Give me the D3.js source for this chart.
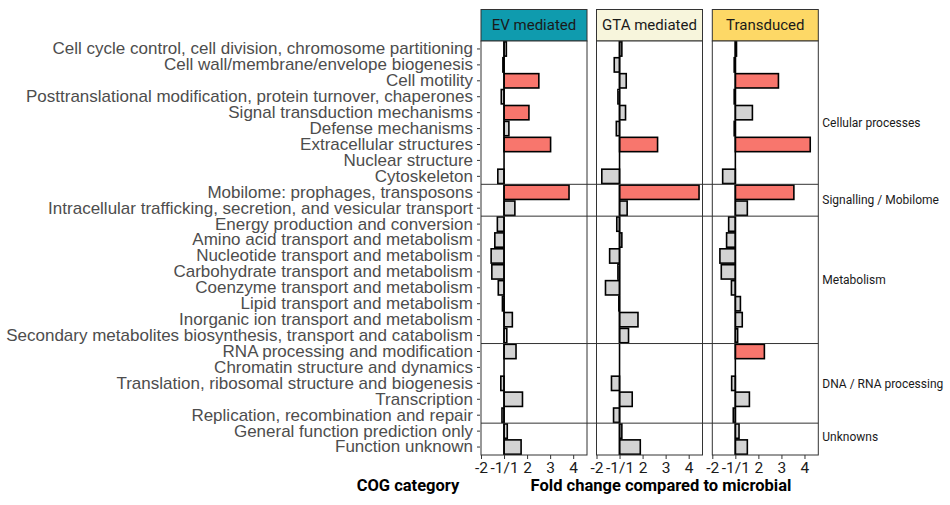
<!DOCTYPE html>
<html>
<head>
<meta charset="utf-8">
<script src="https://cdn.jsdelivr.net/npm/d3@7"></script>
<style>
  body { margin: 0; background: #fff; }
  svg { display: block; }
  .ylab { font-family: "Liberation Sans", Arimo, Arial, Helvetica, sans-serif; }
</style>
</head>
<body>
<div id="chart"></div>
<script>
// COG categories, top to bottom
const categories = [
    "Cell cycle control, cell division, chromosome partitioning",
    "Cell wall/membrane/envelope biogenesis",
    "Cell motility",
    "Posttranslational modification, protein turnover, chaperones",
    "Signal transduction mechanisms",
    "Defense mechanisms",
    "Extracellular structures",
    "Nuclear structure",
    "Cytoskeleton",
    "Mobilome: prophages, transposons",
    "Intracellular trafficking, secretion, and vesicular transport",
    "Energy production and conversion",
    "Amino acid transport and metabolism",
    "Nucleotide transport and metabolism",
    "Carbohydrate transport and metabolism",
    "Coenzyme transport and metabolism",
    "Lipid transport and metabolism",
    "Inorganic ion transport and metabolism",
    "Secondary metabolites biosynthesis, transport and catabolism",
    "RNA processing and modification",
    "Chromatin structure and dynamics",
    "Translation, ribosomal structure and biogenesis",
    "Transcription",
    "Replication, recombination and repair",
    "General function prediction only",
    "Function unknown"
];

// group of each category (row facets)
const groups = ["Cellular processes", "Signalling / Mobilome", "Metabolism", "DNA / RNA processing", "Unknowns"];
const groupSizes = [9, 2, 8, 5, 2];

// panels (column facets)
const panels = ["EV mediated", "GTA mediated", "Transduced"];
const panelColors = ["#0f9bae", "#f7f5dc", "#fdd866"];

// fold change compared to microbial (null = no bar)
const evValues = [1.1, -1.05, 2.51, -1.12, 2.08, 1.21, 3.02, null, -1.27, 3.82, 1.47,
    -1.29, -1.4, -1.56, -1.53, -1.25, -1.07, 1.36, 1.12,
    1.52, null, -1.14, 1.8, -1.09, 1.14, 1.74];
const gtaValues = [1.1, -1.23, 1.29, -1.07, 1.26, -1.14, 2.65, null, -1.77, 4.45, 1.33,
    -1.12, 1.1, -1.43, -1.07, -1.61, -1.03, 1.8, 1.39,
    null, null, -1.35, 1.55, -1.26, 1.1, 1.9];
const transValues = [1.05, -1.05, 2.87, -1.05, 1.74, -1.05, 4.25, null, -1.55, 3.54, 1.52,
    -1.29, -1.38, -1.67, -1.61, -1.17, 1.22, 1.3, 1.1,
    2.26, null, -1.16, 1.61, -1.09, 1.16, 1.52];
const panelValues = [evValues, gtaValues, transValues];

// x axis ticks
const tickValues = [-2, 1, 2, 3, 4];
const tickLabels = ["-2", "-1/1", "2", "3", "4"];

const svgWidth = 950, svgHeight = 505;
const panelLeft = [481, 596.5, 712.3];
const panelWidth = 106;
const plotTop = 41, plotBottom = 455;
const groupLabelShift = [10.5, 0, 0, 0, -2];

const svg = d3.select("#chart")
    .append("svg")
    .attr("width", svgWidth)
    .attr("height", svgHeight);

// fold change -> position (the -1..1 gap is collapsed)
const foldPos = (f) => f >= 0 ? f - 1 : f + 1;

const x = d3.scaleLinear()
    .domain([-1, 3.6])
    .range([0, panelWidth]);

const y = d3.scaleBand()
    .domain(categories)
    .range([plotTop, plotBottom])
    .paddingInner(0.1)
    .paddingOuter(0.05);

// y axis labels
const yAxis = svg.append("g")
    .attr("transform", `translate(${panelLeft[0] - 1}, 0)`)
    .call(d3.axisLeft(y).tickSize(3).tickPadding(4));
yAxis.attr("font-family", null).attr("font-size", null);
yAxis.select(".domain").remove();
yAxis.selectAll(".tick line").attr("stroke", "#333");
yAxis.selectAll("text")
    .attr("class", "ylab")
    .attr("fill", "#4d4d4d")
    .attr("font-size", 17);

panels.forEach((name, i) => {
    const g = svg.append("g").attr("transform", `translate(${panelLeft[i]}, 0)`);

    // strip
    g.append("rect")
        .attr("x", 0).attr("y", 9.5)
        .attr("width", panelWidth).attr("height", plotTop - 9.5)
        .attr("fill", panelColors[i])
        .attr("stroke", "#333").attr("stroke-width", 1);
    g.append("text")
        .attr("x", panelWidth / 2).attr("y", 30)
        .attr("text-anchor", "middle")
        .style("font-family", "Roboto, sans-serif")
        .style("font-size", "15px")
        .attr("fill", "#1a1a1a")
        .text(name);

    // panel background
    g.append("rect")
        .attr("x", 0).attr("y", plotTop)
        .attr("width", panelWidth).attr("height", plotBottom - plotTop)
        .attr("fill", "white");

    const rows = categories.map((c, k) => ({ cat: c, v: panelValues[i][k] }))
        .filter(d => d.v !== null);

    g.selectAll("rect.bar")
        .data(rows)
        .enter().append("rect")
        .attr("class", "bar")
        .attr("x", d => Math.min(x(0), x(foldPos(d.v))))
        .attr("width", d => Math.abs(x(foldPos(d.v)) - x(0)))
        .attr("y", d => y(d.cat))
        .attr("height", y.bandwidth())
        .attr("fill", d => d.v >= 2 ? "#f8766d" : "#d3d3d3")
        .attr("stroke", "black")
        .attr("stroke-width", 1.6);

    // zero line
    g.append("line")
        .attr("x1", x(0)).attr("x2", x(0))
        .attr("y1", plotTop).attr("y2", plotBottom)
        .attr("stroke", "black").attr("stroke-width", 1.6);

    // panel border
    g.append("rect")
        .attr("x", 0).attr("y", plotTop)
        .attr("width", panelWidth).attr("height", plotBottom - plotTop)
        .attr("fill", "none")
        .attr("stroke", "#333").attr("stroke-width", 1);

    // x axis
    const xAxis = g.append("g")
        .attr("transform", `translate(0, ${plotBottom})`)
        .call(d3.axisBottom(x)
            .tickValues(tickValues.map(foldPos))
            .tickFormat((d, k) => tickLabels[k])
            .tickSize(4).tickPadding(3));
    xAxis.select(".domain").remove();
    xAxis.selectAll(".tick line").attr("stroke", "#333");
    xAxis.selectAll("text")
        .attr("fill", "#1a1a1a")
        .style("font-family", "Roboto, sans-serif")
        .style("font-size", "15.5px");
});

// group separators and right-side labels
let start = 0;
groups.forEach((name, k) => {
    const first = categories[start];
    const last = categories[start + groupSizes[k] - 1];
    const y0 = y(first) - y.step() * y.paddingInner() / 2;
    const y1 = y(last) + y.bandwidth() + y.step() * y.paddingInner() / 2;
    if (k > 0) {
        svg.append("line")
            .attr("x1", panelLeft[0]).attr("x2", panelLeft[2] + panelWidth)
            .attr("y1", y0).attr("y2", y0)
            .attr("stroke", "#333").attr("stroke-width", 1);
    }
    svg.append("text")
        .attr("x", panelLeft[2] + panelWidth + 4)
        .attr("y", (y0 + y1) / 2 + groupLabelShift[k])
        .attr("dy", "0.35em")
        .style("font-family", "Roboto, sans-serif")
        .style("font-size", "12px")
        .attr("fill", "#1a1a1a")
        .text(name);
    start += groupSizes[k];
});

// axis titles
svg.append("text")
    .attr("x", 408).attr("y", 491)
    .attr("text-anchor", "middle")
    .style("font-family", "Roboto, sans-serif")
    .style("font-weight", "bold")
    .style("font-size", "16.5px")
    .text("COG category");

svg.append("text")
    .attr("x", 661).attr("y", 491)
    .attr("text-anchor", "middle")
    .style("font-family", "Roboto, sans-serif")
    .style("font-weight", "bold")
    .style("font-size", "16.5px")
    .text("Fold change compared to microbial");
</script>
</body>
</html>
